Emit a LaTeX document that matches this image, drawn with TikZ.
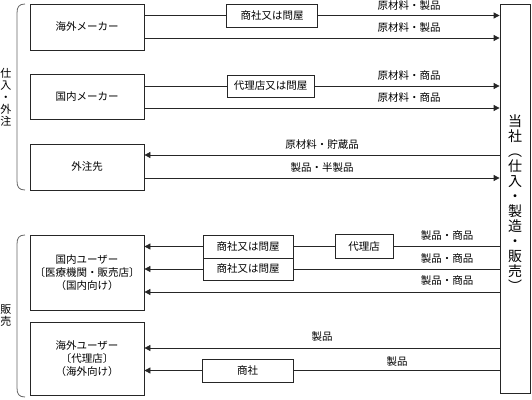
\documentclass[tikz,border=0pt]{standalone}
\usepackage{fontspec}
\setmainfont{Noto Sans CJK JP}
\usetikzlibrary{arrows.meta}
\begin{document}
\begin{tikzpicture}[x=1pt,y=-1pt,
  box/.style={draw=black!85, line width=0.8pt, font=\fontsize{10.5}{13}\selectfont, align=center, inner sep=0pt},
  ln/.style={draw=black!85, line width=0.8pt},
  arr/.style={ln, -{Triangle[length=6pt,width=6pt]}},
  lbl/.style={font=\fontsize{10.5}{12}\selectfont, inner sep=0pt},
  vlbl/.style={font=\fontsize{11}{12}\selectfont, align=center, inner sep=0pt},
  brk/.style={draw=black!60, line width=0.8pt}]
\useasboundingbox (0,0) rectangle (532,399);
% boxes
\node[box, minimum width=114pt, minimum height=46pt] (kM) at (87,27) {海外メーカー};
\node[box, minimum width=114pt, minimum height=45pt] (dM) at (87,96.5) {国内メーカー};
\node[box, minimum width=114pt, minimum height=46pt] (gai) at (87,167) {外注先};
\node[box, minimum width=30pt, minimum height=389pt] (tosha) at (515,198.5) {};
\node[font=\fontsize{14}{15}\selectfont, align=center, inner sep=0pt] (toshaT) at (515,203) {当\\社\\︵\\仕\\入\\・\\製\\造\\・\\販\\売\\︶};
\node[box, minimum width=91pt, minimum height=23pt] (s1) at (272,15.5) {商社又は問屋};
\node[box, minimum width=87pt, minimum height=22pt] (d1) at (270.5,86) {代理店又は問屋};
\node[box, minimum width=114pt, minimum height=75pt] (dU) at (87,272.5) {国内ユーザー\\〔医療機関・販売店〕\\（国内向け）};
\node[box, minimum width=114pt, minimum height=73pt] (kU) at (87,358.5) {海外ユーザー\\〔代理店〕\\（海外向け）};
\node[box, minimum width=90pt, minimum height=23pt] (s2) at (248,246.5) {商社又は問屋};
\node[box, minimum width=90pt, minimum height=22pt] (s3) at (248,269) {商社又は問屋};
\node[box, minimum width=58pt, minimum height=24pt] (dr) at (364,246.5) {代理店};
\node[box, minimum width=91pt, minimum height=23pt] (sh) at (247.5,370.5) {商社};
% helper coordinates
\coordinate (y38) at (0,38);
\coordinate (y108) at (0,108);
\coordinate (y155) at (0,155);
\coordinate (y178) at (0,178);
\coordinate (y292) at (0,292);
\coordinate (y348) at (0,348);
% connectors
\draw[ln] (kM.east |- s1.west) -- (s1.west);
\draw[arr] (s1.east) -- (s1.east -| tosha.west);
\draw[arr] (kM.east |- y38) -- (tosha.west |- y38);
\draw[ln] (dM.east |- d1.west) -- (d1.west);
\draw[arr] (d1.east) -- (d1.east -| tosha.west);
\draw[arr] (dM.east |- y108) -- (tosha.west |- y108);
\draw[arr] (tosha.west |- y155) -- (gai.east |- y155);
\draw[arr] (gai.east |- y178) -- (tosha.west |- y178);
\draw[ln] (tosha.west |- dr.east) -- (dr.east);
\draw[ln] (dr.west) -- (s2.east |- dr.west);
\draw[arr] (s2.west) -- (dU.east |- s2.west);
\draw[ln] (tosha.west |- s3.east) -- (s3.east);
\draw[arr] (s3.west) -- (dU.east |- s3.west);
\draw[arr] (tosha.west |- y292) -- (dU.east |- y292);
\draw[arr] (tosha.west |- y348) -- (kU.east |- y348);
\draw[ln] (tosha.west |- sh.east) -- (sh.east);
\draw[arr] (sh.west) -- (kU.east |- sh.west);
% labels
\node[lbl] (l1) at (409,6) {原材料・製品};
\node[lbl] (l2) at (409,28) {原材料・製品};
\node[lbl] (l3) at (409,76) {原材料・商品};
\node[lbl] (l4) at (409,98) {原材料・商品};
\node[lbl] (l5) at (322,145) {原材料・貯蔵品};
\node[lbl] (l6) at (322,168) {製品・半製品};
\node[lbl] (l7) at (447,236) {製品・商品};
\node[lbl] (l8) at (447,259) {製品・商品};
\node[lbl] (l9) at (447,281) {製品・商品};
\node[lbl] (l10) at (322,337) {製品};
\node[lbl] (l11) at (397,362) {製品};
% side labels and brackets
\node[vlbl] (sire) at (6,97) {仕\\入\\・\\外\\注};
\node[vlbl] (hanbai) at (6,316) {販\\売};
\draw[brk] (25,4) .. controls (19,4) and (17,7) .. (17,13) -- (17,181) .. controls (17,187) and (19,190) .. (25,190);
\draw[brk] (25,235) .. controls (19,235) and (17,238) .. (17,244) -- (17,388) .. controls (17,394) and (19,397) .. (25,397);
\end{tikzpicture}
\end{document}
